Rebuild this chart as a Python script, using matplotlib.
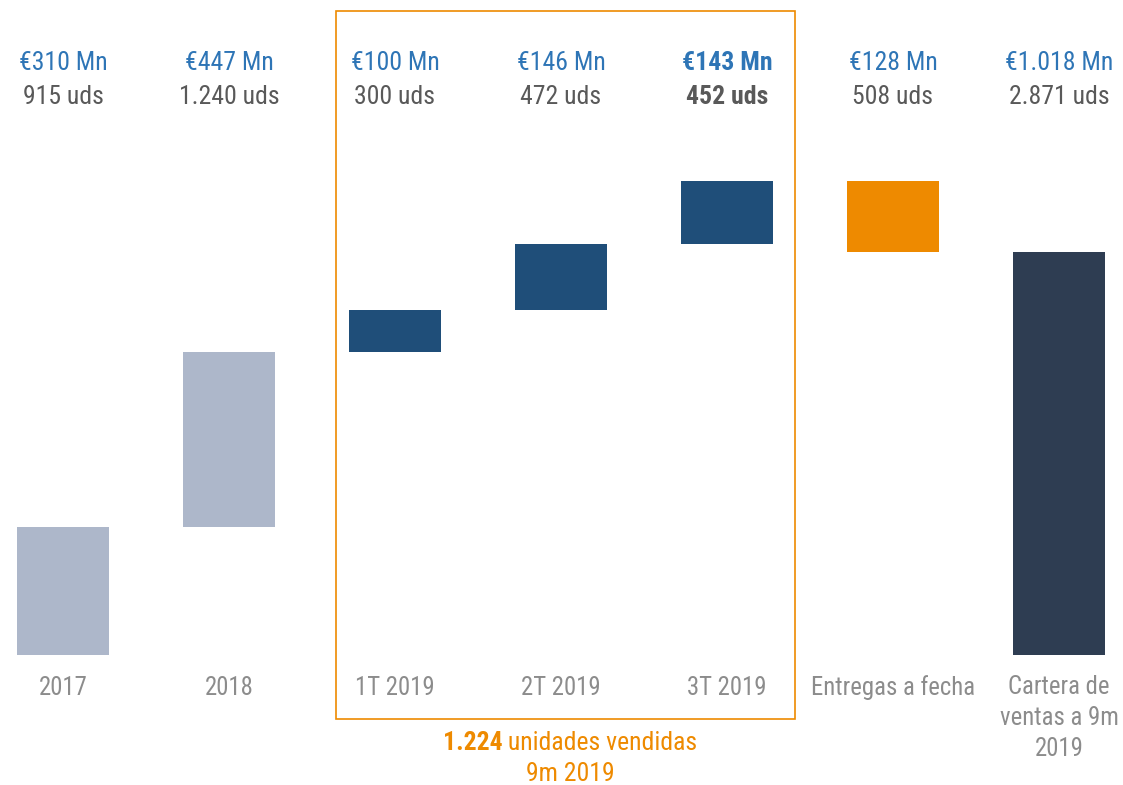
import matplotlib.pyplot as plt
from matplotlib.patches import Rectangle
from matplotlib import font_manager

# datos
categorias = ["2017", "2018", "1T 2019", "2T 2019", "3T 2019", "Entregas a fecha", "Cartera de\nventas a 9m\n2019"]
unidades = [915, 1240, 300, 472, 452, -508, 2871]
importes = ["€310 Mn", "€447 Mn", "€100 Mn", "€146 Mn", "€143 Mn", "€128 Mn", "€1.018 Mn"]
uds_txt = ["915 uds", "1.240 uds", "300 uds", "472 uds", "452 uds", "508 uds", "2.871 uds"]
tipo = ["hist", "hist", "trim", "trim", "trim", "entrega", "total"]
negrita = [False, False, False, False, True, False, False]

colores = {"hist": "#ADB7CA", "trim": "#1F4E79", "entrega": "#EE8A00", "total": "#2E3D52"}
azul_txt = "#2E75B6"
gris_txt = "#595959"
gris_cat = "#8C8C8C"
naranja = "#EE8A00"

nombres = {f.name for f in font_manager.fontManager.ttflist}
candidatas = ["Liberation Sans Narrow", "Roboto Condensed", "Open Sans Condensed", "Roboto", "Liberation Sans"]
fuente = next(c for c in candidatas if c in nombres)
plt.rcParams['font.family'] = [fuente, 'DejaVu Sans']
estrecha = "Narrow" in fuente or "Condensed" in fuente
tam = 18.5 if estrecha else 17
tam_cat = 17.8 if estrecha else 16

W, H = 1123, 785
fig = plt.figure(figsize=(W / 100, H / 100), dpi=100)
ax = fig.add_axes([0, 0, 1, 1])
ax.axis('off')

x0, paso = 63, 166          # centro primera barra y separacion (px)
base_px, escala = 655, 0.1404  # eje cero (px desde arriba) y px por unidad
ax.set_xlim(-x0 / paso, (W - x0) / paso)
ax.set_ylim(-(H - base_px) / escala, base_px / escala)

def fy(py):
    return 1 - py / H

ancho = 0.55
acum = 0
for i, (u, t) in enumerate(zip(unidades, tipo)):
    if t == "total":
        bottom, altura = 0, u
    elif u >= 0:
        bottom, altura = acum, u
        acum += u
    else:
        acum += u
        bottom, altura = acum, -u
    ax.bar(i, altura, bottom=bottom, width=ancho, color=colores[t])

tr = ax.get_xaxis_transform()
for i in range(len(categorias)):
    w = 'bold' if negrita[i] else 'normal'
    ax.text(i, fy(63), importes[i], transform=tr, ha='center', va='center',
            fontsize=tam, color=azul_txt, fontweight=w)
    ax.text(i, fy(97), uds_txt[i], transform=tr, ha='center', va='center',
            fontsize=tam, color=gris_txt, fontweight=w)
    if "\n" in categorias[i]:
        ax.text(i, fy(718), categorias[i], transform=tr, ha='center', va='center',
                fontsize=tam_cat, color=gris_cat, linespacing=1.35)
    else:
        ax.text(i, fy(688), categorias[i], transform=tr, ha='center', va='center',
                fontsize=tam_cat, color=gris_cat)

# recuadro 2019
fig.patches.append(Rectangle((336 / W, fy(719)), (795 - 336) / W, (719 - 11) / H,
                             transform=fig.transFigure, fill=False,
                             edgecolor=naranja, linewidth=1.2))

# texto inferior
fig.canvas.draw()
r = fig.canvas.get_renderer()
t1 = fig.text(0, fy(743), "1.224", fontsize=tam, fontweight='bold', color=naranja, va='center')
t2 = fig.text(0, fy(743), " unidades vendidas", fontsize=tam, color=naranja, va='center')
w1 = t1.get_window_extent(r).width
w2 = t2.get_window_extent(r).width
izq = 570 - (w1 + w2) / 2
t1.set_x(izq / W)
t2.set_x((izq + w1) / W)
fig.text(570 / W, fy(774), "9m 2019", fontsize=tam, color=naranja, ha='center', va='center')

fig.savefig("out.png", dpi=100)
